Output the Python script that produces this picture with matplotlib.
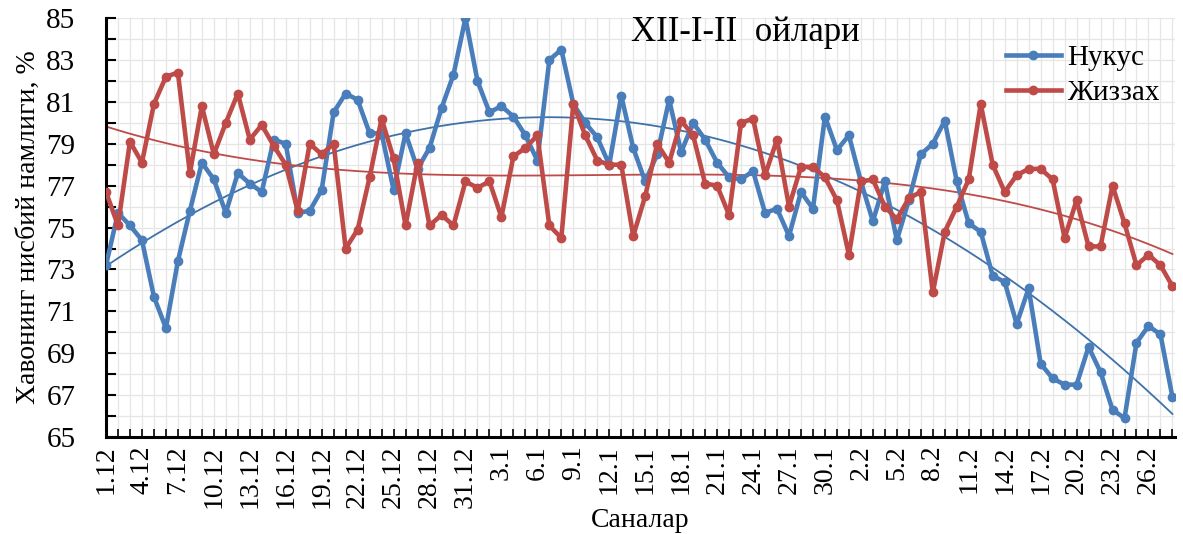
import numpy as np
import matplotlib
matplotlib.use("Agg")
import matplotlib.pyplot as plt

plt.rcParams['font.family'] = ['Liberation Serif', 'DejaVu Serif']

# Нукус - кунлик нисбий намлик, %  (1.12 ... 28.2)
nukus = [73.2, 75.7, 75.1, 74.4, 71.7, 70.2, 73.4, 75.8, 78.1, 77.3,
         75.7, 77.6, 77.1, 76.7, 79.2, 79.0, 75.7, 75.8, 76.8, 80.5,
         81.4, 81.1, 79.5, 79.5, 76.8, 79.5, 77.8, 78.8, 80.7, 82.3,
         85.0, 82.0, 80.5, 80.8, 80.3, 79.4, 78.2, 83.0, 83.5, 80.9,
         80.0, 79.3, 78.0, 81.3, 78.8, 77.2, 78.5, 81.1, 78.6, 80.0,
         79.2, 78.1, 77.4, 77.3, 77.7, 75.7, 75.9, 74.6, 76.7, 75.9,
         80.3, 78.7, 79.4, 77.2, 75.3, 77.2, 74.4, 76.3, 78.5, 79.0,
         80.1, 77.2, 75.2, 74.8, 72.7, 72.4, 70.4, 72.1, 68.5, 67.8,
         67.5, 67.5, 69.3, 68.1, 66.3, 65.9, 69.5, 70.3, 69.9, 66.9]

# Жиззах
jizzax = [76.7, 75.1, 79.1, 78.1, 80.9, 82.2, 82.4, 77.6, 80.8, 78.5,
          80.0, 81.4, 79.2, 79.9, 78.9, 78.0, 75.8, 79.0, 78.5, 79.0,
          74.0, 74.9, 77.4, 80.2, 78.3, 75.1, 78.1, 75.1, 75.6, 75.1,
          77.2, 76.9, 77.2, 75.5, 78.4, 78.8, 79.4, 75.1, 74.5, 80.9,
          79.4, 78.2, 78.0, 78.0, 74.6, 76.5, 79.0, 78.1, 80.1, 79.4,
          77.1, 77.0, 75.6, 80.0, 80.2, 77.5, 79.2, 76.0, 77.9, 77.9,
          77.4, 76.3, 73.7, 77.2, 77.3, 76.0, 75.4, 76.4, 76.7, 71.9,
          74.8, 76.0, 77.3, 80.9, 78.0, 76.7, 77.5, 77.8, 77.8, 77.3,
          74.5, 76.3, 74.1, 74.1, 77.0, 75.2, 73.2, 73.7, 73.2, 72.2]

# санлар: 1.12 - 31.12, 1.1 - 31.1, 1.2 - 28.2
dates = ([f"{d}.12" for d in range(1, 32)] + [f"{d}.1" for d in range(1, 32)]
         + [f"{d}.2" for d in range(1, 29)])

y_ticks = list(range(65, 86, 2))

blue = "#4a7ebb"
red = "#be4b48"

x = np.arange(len(nukus))

fig = plt.figure(figsize=(11.83, 5.34), dpi=100)
ax = fig.add_axes([0.0896, 0.1816, 0.9035, 0.7845])

ax.plot(x, nukus, color=blue, lw=3.3, marker="o", ms=6, label="Нукус", zorder=3)
ax.plot(x, jizzax, color=red, lw=3.3, marker="o", ms=6, label="Жиззах", zorder=3)

# тренд чизиклари
p_b = np.polyfit(x, nukus, 2)
p_r = np.polyfit(x, jizzax, 3)
ax.plot(x, np.polyval(p_b, x), color="#3f72a8", lw=1.3, zorder=2)
ax.plot(x, np.polyval(p_r, x), color=red, lw=1.3, zorder=2)

ax.set_xlim(0, 89.2)
ax.set_ylim(65, 85)

ax.set_xticks(x[::3])
ax.set_xticklabels(dates[::3], rotation=90, fontsize=20)
ax.set_xticks(x, minor=True)
ax.set_yticks(y_ticks)
ax.set_yticks(np.arange(65, 86, 1), minor=True)
ax.tick_params(axis="y", labelsize=21, direction="in", length=7, width=1.5, pad=22)
ax.tick_params(axis="y", which="minor", direction="in", length=7, width=1.5)
ax.tick_params(axis="x", which="both", direction="in", length=6, width=1.2, pad=6)

ax.grid(True, which="both", color="#e6e6e6", lw=0.9)
ax.set_axisbelow(True)

for s in ["top", "right"]:
    ax.spines[s].set_visible(False)
for s in ["left", "bottom"]:
    ax.spines[s].set_linewidth(2.2)

ax.set_ylabel("Хавонинг нисбий намлиги, %", fontsize=20, labelpad=4)
ax.set_xlabel("Саналар", fontsize=20, labelpad=0)
ax.text(0.598, 0.965, "XII-I-II  ойлари", transform=ax.transAxes, fontsize=25,
        ha="center", va="center")

leg = ax.legend(loc="upper right", bbox_to_anchor=(1.01, 1.0), fontsize=21, frameon=False,
                handlelength=1.9, handletextpad=0.2, labelspacing=0.3)

fig.savefig("out.png", dpi=100)
